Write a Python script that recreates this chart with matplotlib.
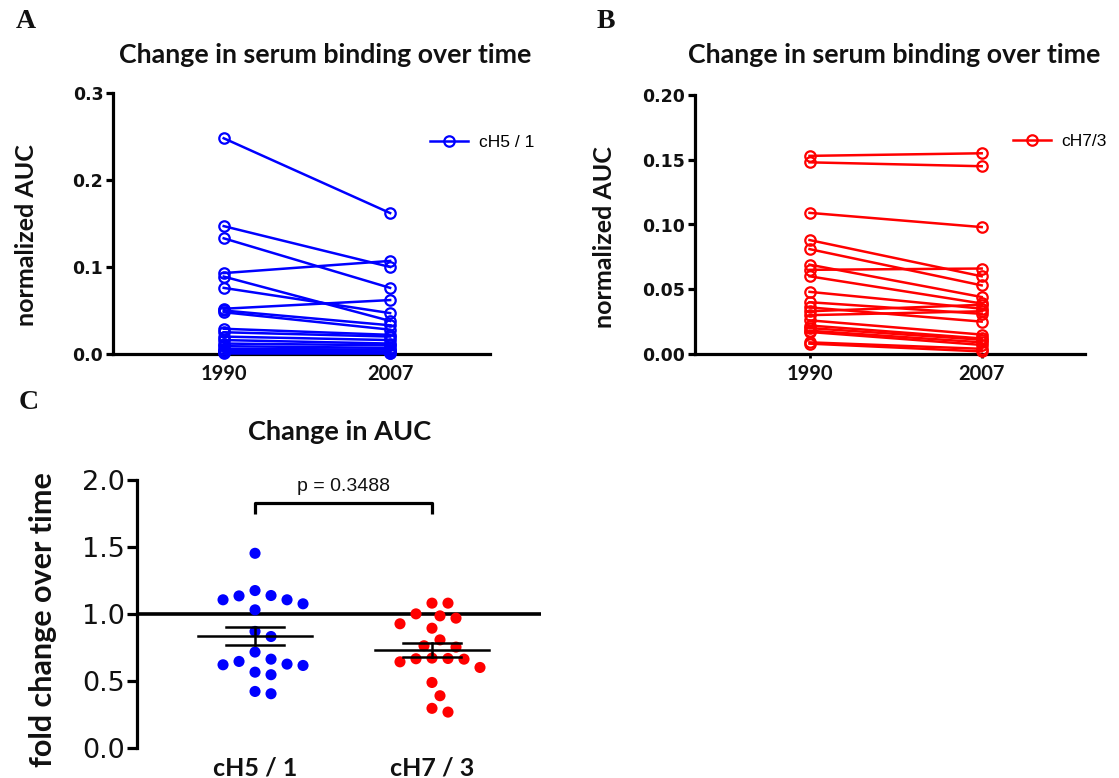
import numpy as np
import matplotlib
matplotlib.use('Agg')
import matplotlib.pyplot as plt

# ---------------- data ----------------
years = ['1990', '2007']
h5_1990 = [0.248, 0.147, 0.133, 0.093, 0.089, 0.076, 0.052, 0.050, 0.048, 0.029,
           0.025, 0.020, 0.016, 0.012, 0.009, 0.006, 0.004, 0.003, 0.002, 0.001]
h5_2007 = [0.162, 0.100, 0.076, 0.107, 0.038, 0.047, 0.062, 0.033, 0.028, 0.022,
           0.020, 0.016, 0.012, 0.010, 0.007, 0.005, 0.003, 0.002, 0.001, 0.001]
h7_1990 = [0.153, 0.148, 0.109, 0.088, 0.081, 0.069, 0.065, 0.060, 0.048, 0.040,
           0.036, 0.033, 0.030, 0.026, 0.022, 0.020, 0.018, 0.017, 0.009, 0.008]
h7_2007 = [0.155, 0.145, 0.098, 0.060, 0.053, 0.044, 0.066, 0.039, 0.035, 0.031,
           0.025, 0.038, 0.033, 0.015, 0.012, 0.011, 0.009, 0.007, 0.004, 0.002]
groups = ['cH5 / 1', 'cH7 / 3']
fold_h5 = [1.453, 1.175, 1.135, 1.106, 1.106, 1.138, 1.076, 1.031, 0.870, 0.832,
           0.716, 0.646, 0.621, 0.566, 0.547, 0.616, 0.626, 0.663, 0.405, 0.422]
fold_h7 = [1.081, 1.081, 1.001, 0.969, 0.986, 0.927, 0.894, 0.807, 0.763, 0.753,
           0.668, 0.663, 0.643, 0.666, 0.671, 0.601, 0.489, 0.390, 0.296, 0.268]
p_text = 'p = 0.3488'

BLUE = '#0000ff'
RED = '#ff0000'
TXT = '#111111'
W, H = 1119, 778
fig = plt.figure(figsize=(W / 100, H / 100), dpi=100)
BOLD = ['Lato', 'DejaVu Sans']
REG = ['Liberation Sans', 'DejaVu Sans']


def ax_px(l, t, r, b):
    return fig.add_axes([l / W, 1 - b / H, (r - l) / W, (b - t) / H])


def style(ax, bottom=True):
    for s in ['top', 'right']:
        ax.spines[s].set_visible(False)
    ax.spines['left'].set_linewidth(2.3)
    ax.spines['bottom'].set_linewidth(2.3)
    ax.spines['bottom'].set_visible(bottom)
    ax.tick_params(axis='y', width=2.3, length=5, direction='out', pad=2)
    ax.patch.set_alpha(0)


def pair_panel(ax, v90, v07, color, ymax, yticks, yfmt):
    x = np.arange(len(years))
    for a, b in zip(v90, v07):
        ax.plot(x, [a, b], color=color, lw=1.8, marker='o', mfc='none',
                mec=color, mew=1.6, ms=7.5, clip_on=False, zorder=3)
    ax.set_xlim(-0.665, 1.6)
    ax.set_ylim(0, ymax)
    ax.set_yticks(yticks)
    ax.set_yticklabels([yfmt.format(t) for t in yticks], fontsize=12.5,
                       fontweight='bold', family=['DejaVu Sans'], color=TXT)
    ax.set_xticks(x)
    ax.set_xticklabels(years, fontsize=14.5, fontweight='bold', family=BOLD, color=TXT)
    ax.tick_params(axis='x', length=3, width=2, pad=4)
    style(ax)
    h, = ax.plot([], [], color=color, lw=1.8, marker='o', mfc='none', mec=color,
                 mew=1.6, ms=7.5)
    return h


# ---------------- Panel A ----------------
axA = ax_px(113, 93, 490, 354)
hA = pair_panel(axA, h5_1990, h5_2007, BLUE, 0.3, [0, 0.1, 0.2, 0.3], '{:.1f}')
axA.set_ylabel('normalized AUC', fontsize=18, fontweight='bold', family=BOLD, color=TXT)
axA.yaxis.set_label_coords(-0.199, 0.456)
axA.legend([hA], [groups[0]], loc='center left', bbox_to_anchor=(0.80, 0.81),
           frameon=False, handlelength=2.2, handletextpad=0.6,
           prop={'family': REG, 'size': 12.5})

# ---------------- Panel B ----------------
axB = ax_px(695, 95, 1085, 354)
hB = pair_panel(axB, h7_1990, h7_2007, RED, 0.20, [0, 0.05, 0.10, 0.15, 0.20], '{:.2f}')
axB.set_ylabel('normalized AUC', fontsize=18, fontweight='bold', family=BOLD, color=TXT)
axB.yaxis.set_label_coords(-0.203, 0.45)
axB.legend([hB], [groups[1].replace(' ', '')], loc='center left', bbox_to_anchor=(0.775, 0.82),
           frameon=False, handlelength=2.2, handletextpad=0.6,
           prop={'family': REG, 'size': 12.5})

# ---------------- Panel C ----------------
axC = ax_px(137, 480, 541, 748)
xlo, xhi = -0.667, 1.616
axC.set_xlim(xlo, xhi)
axC.set_ylim(0, 2.0)
px_x = 404 / (xhi - xlo)   # pixels per x unit
px_y = 268 / 2.0           # pixels per y unit


def swarm(vals, step_px=8.0, diam_px=13.5):
    vals = np.asarray(vals, float)
    order = np.argsort(-vals)
    placed = []
    offs = np.zeros(len(vals))
    cands = [0.0]
    for k in range(1, 14):
        cands += [k * step_px, -k * step_px]
    for i in order:
        yp = vals[i] * px_y
        for c in cands:
            ok = all((c - px) ** 2 + (yp - py) ** 2 >= diam_px ** 2 for px, py in placed)
            if ok:
                placed.append((c, yp))
                offs[i] = c / px_x
                break
    return offs


for gi, (vals, col) in enumerate([(fold_h5, BLUE), (fold_h7, RED)]):
    v = np.asarray(vals)
    xs = gi + swarm(v)
    axC.scatter(xs, v, s=64, color=col, edgecolors='none', zorder=3, clip_on=False)
    m = v.mean()
    sem = v.std(ddof=1) / np.sqrt(len(v))
    axC.plot([gi - 0.32, gi + 0.32], [m, m], color='k', lw=1.8, zorder=4)
    axC.plot([gi - 0.165, gi + 0.165], [m + sem, m + sem], color='k', lw=1.8, zorder=4)
    axC.plot([gi - 0.165, gi + 0.165], [m - sem, m - sem], color='k', lw=1.8, zorder=4)
    axC.plot([gi, gi], [m - sem, m + sem], color='k', lw=1.8, zorder=4)

axC.axhline(1.0, color='k', lw=2.6, zorder=2)
axC.plot([0, 0, 1, 1], [1.75, 1.826, 1.826, 1.75], color='k', lw=2.3, solid_capstyle='butt')
axC.text(0.5, 1.95, p_text, ha='center', va='center', fontsize=14, family=REG, color=TXT)
axC.set_yticks([0, 0.5, 1.0, 1.5, 2.0])
axC.set_yticklabels(['0.0', '0.5', '1.0', '1.5', '2.0'], fontsize=19.5,
                    family=['DejaVu Sans'], color=TXT)
axC.set_xticks([0, 1])
axC.set_xticklabels(groups, fontsize=18, fontweight='bold', family=BOLD, color=TXT)
axC.tick_params(axis='x', length=0, pad=6)
style(axC, bottom=False)
axC.tick_params(axis='y', length=7)
axC.set_ylabel('fold change over time', fontsize=22, fontweight='bold', family=BOLD, color=TXT)
axC.yaxis.set_label_coords(-0.198, 0.48)

# ---------------- titles & panel letters ----------------
fig.text(325 / W, 1 - 55 / H, 'Change in serum binding over time', ha='center', va='center',
         fontsize=19.3, fontweight='bold', family=BOLD, color=TXT)
fig.text(894 / W, 1 - 55 / H, 'Change in serum binding over time', ha='center', va='center',
         fontsize=19.3, fontweight='bold', family=BOLD, color=TXT)
fig.text(340 / W, 1 - 432 / H, 'Change in AUC', ha='center', va='center',
         fontsize=19.5, fontweight='bold', family=BOLD, color=TXT)
for lab, x, y in [('A', 26, 22), ('B', 606, 22), ('C', 29, 403)]:
    fig.text(x / W, 1 - y / H, lab, ha='center', va='center', fontsize=20,
             fontweight='bold', family=['Liberation Serif', 'DejaVu Serif'], color=TXT)

fig.savefig('out.png', dpi=100)
